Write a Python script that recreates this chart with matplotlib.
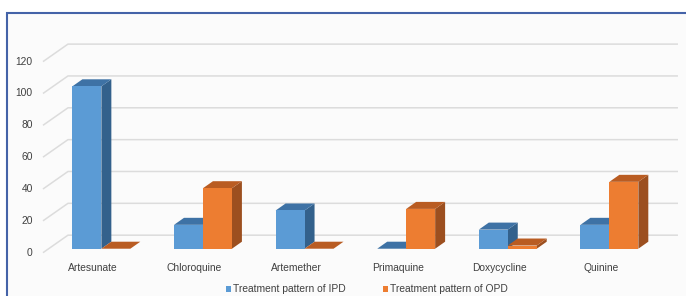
import matplotlib.pyplot as plt
from matplotlib.patches import Polygon, Rectangle

# data
drugs = ["Artesunate", "Chloroquine", "Artemether", "Primaquine", "Doxycycline", "Quinine"]
ipd = [102, 15, 24, 0, 12, 15]
opd = [0, 38, 0, 25, 2, 42]
series_names = ["Treatment pattern of IPD", "Treatment pattern of OPD"]
yticks = [0, 20, 40, 60, 80, 100, 120]

# colours (front, top, side)
blue = ("#5b9bd5", "#3e72a5", "#33618c")
orange = ("#ed7d31", "#b95c22", "#9c4f1f")

plt.rcParams['font.family'] = ['Liberation Sans', 'DejaVu Sans']

fig = plt.figure(figsize=(6.86, 2.96), dpi=100)
fig.patch.set_facecolor("white")

ax = fig.add_axes([0, 0, 1, 1])
ax.set_xlim(-0.915, 5.837)
ax.set_ylim(-27.2, 158.7)
ax.axis("off")
ax.patch.set_alpha(0)

# frame like the cropped chart border
ax.add_patch(Rectangle((0.01, -0.01), 1.0, 0.966, transform=fig.transFigure,
                       facecolor="#fbfbfb", edgecolor="#4463a8", linewidth=1.5,
                       zorder=0, clip_on=False))

# oblique depth of the floor / walls
depth_x = 0.246
depth_y = 11.0
# bar placement in depth
bar_dx0 = 0.055
bar_dy0 = 2.5
bar_ddx = 0.098
bar_ddy = 4.4
bar_w = 0.285
grid_front_x = -0.492
grid_end_x = 5.758

# gridlines: diagonal on side wall + back wall horizontal
for v in yticks:
    ax.plot([grid_front_x, grid_front_x + depth_x, grid_end_x],
            [v, v + depth_y, v + depth_y], color="#dcdcdc", lw=1.1,
            solid_capstyle="butt", zorder=1)
    ax.text(grid_front_x - 0.1, v, str(v), ha="right", va="center",
            fontsize=7.4, color="#404040")


def draw_bar(x0, val, cols):
    front, top, side = cols
    y0 = bar_dy0
    y1 = val + bar_dy0
    x1 = x0 + bar_w
    # side face
    ax.add_patch(Polygon([(x1, y0), (x1 + bar_ddx, y0 + bar_ddy),
                          (x1 + bar_ddx, y1 + bar_ddy), (x1, y1)],
                         closed=True, facecolor=side, edgecolor="none", zorder=3))
    # top face
    ax.add_patch(Polygon([(x0, y1), (x0 + bar_ddx, y1 + bar_ddy),
                          (x1 + bar_ddx, y1 + bar_ddy), (x1, y1)],
                         closed=True, facecolor=top, edgecolor="none", zorder=3))
    # front face
    if val > 0:
        ax.add_patch(Rectangle((x0, y0), bar_w, val, facecolor=front,
                               edgecolor="none", zorder=3))


for i, name in enumerate(drugs):
    center = i + bar_dx0 + 0.028
    draw_bar(center - bar_w, ipd[i], blue)
    draw_bar(center, opd[i], orange)
    ax.text(i, -9.5, name, ha="center", va="center", fontsize=7.4, color="#404040")

# legend
leg_y = -23.0
items = [(1.31, series_names[0], blue[0]), (2.855, series_names[1], orange[0])]
for lx, label, col in items:
    ax.add_patch(Rectangle((lx, leg_y - 1.7), 0.045, 3.6, facecolor=col,
                           edgecolor="none", zorder=3))
    ax.text(lx + 0.07, leg_y, label, ha="left", va="center", fontsize=7.4,
            color="#404040")

fig.savefig("out.png", dpi=100, facecolor="white")
